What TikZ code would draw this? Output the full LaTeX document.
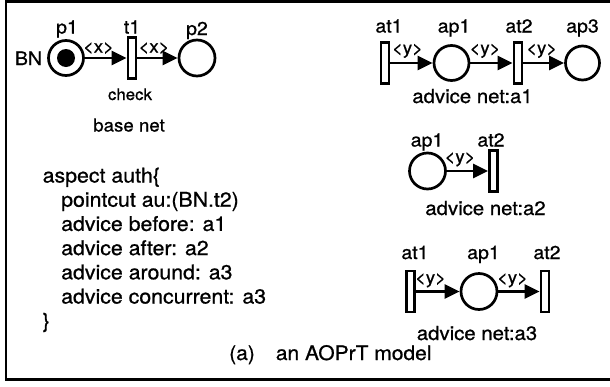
\documentclass[tikz,border=0pt]{standalone}
\usepackage{fontspec}
\setmainfont{TeX Gyre Heros}[FakeStretch=1.05,FakeBold=0.8]
\usetikzlibrary{arrows.meta}
\begin{document}
\begin{tikzpicture}[x=1pt,y=-1pt,
  place/.style={circle,draw,line width=2.7pt,minimum size=#1,inner sep=0pt},
  place/.default=36pt,
  trans/.style={rectangle,draw,line width=2.7pt,minimum width=8pt,minimum height=41pt,inner sep=0pt},
  token/.style={circle,fill,minimum size=18pt,inner sep=0pt},
  arc/.style={line width=2.7pt,-{Triangle[length=15pt,width=14pt]}},
  lbl/.style={inner sep=0pt,anchor=base,font=\fontsize{18.6}{18.6}\selectfont},
  arclbl/.style={inner sep=0pt,anchor=base,font=\fontsize{17.6}{17.6}\selectfont},
  netname/.style={inner sep=0pt,anchor=base,font=\fontsize{19.4}{19.4}\selectfont},
  codeline/.style={inner sep=0pt,anchor=base west,font=\fontsize{20.3}{20.3}\selectfont},
  caption/.style={inner sep=0pt,anchor=base west,font=\fontsize{20}{20}\selectfont}]
\useasboundingbox (0,0) rectangle (610,386);
\clip (0,0) rectangle (610,386);
\fill[white] (0,0) rectangle (610,386);
% outer frame: top, left and bottom sides, running off the right edge
\draw[line width=2.8pt] (640,1.2) -- (6,1.2) -- (6,379.5) -- (640,379.5);

% ---- base net ----
\node[place=35pt] (p1) at (66,58) {};
\node[token] (tok) at (66,58) {};
\node[trans] (t1) at (132,58) {};
\node[place=36pt] (p2) at (197,58) {};
\draw[arc] (p1) -- (t1);
\draw[arc] (t1) -- (p2);
\node[lbl] (p1l) at (67,33.5) {p1};
\node[lbl] (t1l) at (132,33.5) {t1};
\node[lbl] (p2l) at (197,35) {p2};
\node[lbl] (bn) at (28.5,65) {BN};
\node[arclbl] (x1) at (98.5,52.5) {<x>};
\node[arclbl] (x2) at (154,52.5) {<x>};
\node[inner sep=0pt,anchor=base,font=\fontsize{16}{16}\selectfont] (chk) at (130,100) {check};
\node[inner sep=0pt,anchor=base,font=\fontsize{17.8}{17.8}\selectfont] (bnet) at (129,131.5) {base net};

% ---- advice net a1 ----
\node[trans] (a1t1) at (385,63) {};
\node[place=35pt] (a1p1) at (451.5,63) {};
\node[trans] (a1t2) at (518,63) {};
\node[place=34pt] (a1p3) at (582.5,63) {};
\draw[arc] (a1t1) -- (a1p1);
\draw[arc] (a1p1) -- (a1t2);
\draw[arc] (a1t2) -- (a1p3);
\node[lbl] (a1t1l) at (389,32.5) {at1};
\node[lbl] (a1p1l) at (454,32.5) {ap1};
\node[lbl] (a1t2l) at (519,32.5) {at2};
\node[lbl] (a1p3l) at (582.5,32.5) {ap3};
\node[arclbl] (y11) at (407.5,54) {<y>};
\node[arclbl] (y12) at (485,54) {<y>};
\node[arclbl] (y13) at (541.7,54) {<y>};
\node[netname] (n1) at (472.5,103) {advice net:a1};

% ---- advice net a2 ----
\node[place=36pt] (a2p1) at (427.5,171) {};
\node[trans] (a2t2) at (493.5,171) {};
\draw[arc] (a2p1) -- (a2t2);
\node[lbl] (a2p1l) at (427,146.5) {ap1};
\node[lbl] (a2t2l) at (491,146.5) {at2};
\node[arclbl] (y21) at (460,162.5) {<y>};
\node[netname] (n2) at (485.5,215) {advice net:a2};

% ---- advice net a3 ----
\node[trans] (a3t1) at (410.5,291.5) {};
\node[place=36pt] (a3p1) at (479,291.5) {};
\node[trans] (a3t2) at (545,291.5) {};
\draw[arc] (a3t1) -- (a3p1);
\draw[arc] (a3p1) -- (a3t2);
\node[lbl] (a3t1l) at (415,259) {at1};
\node[lbl] (a3p1l) at (483.5,259) {ap1};
\node[lbl] (a3t2l) at (547,259) {at2};
\node[arclbl] (y31) at (430.5,283.5) {<y>};
\node[arclbl] (y32) at (512.5,283.5) {<y>};
\node[netname] (n3) at (477,340) {advice net:a3};

% ---- aspect definition ----
\node[codeline] (c1) at (42.5,182.5) {aspect auth\{};
\node[codeline] (c2) at (61,206.7) {pointcut au:(BN.t2)};
\node[codeline] (c3) at (61,230.9) {advice before: a1};
\node[codeline] (c4) at (61,255.1) {advice after: a2};
\node[codeline] (c5) at (61,279.3) {advice around: a3};
\node[codeline] (c6) at (61,303.5) {advice concurrent: a3};
\node[codeline] (c7) at (42.5,327.7) {\}};

% ---- caption ----
\node[caption] (cap) at (229,360) {(a)\hspace{21pt}an AOPrT model};
\end{tikzpicture}
\end{document}
